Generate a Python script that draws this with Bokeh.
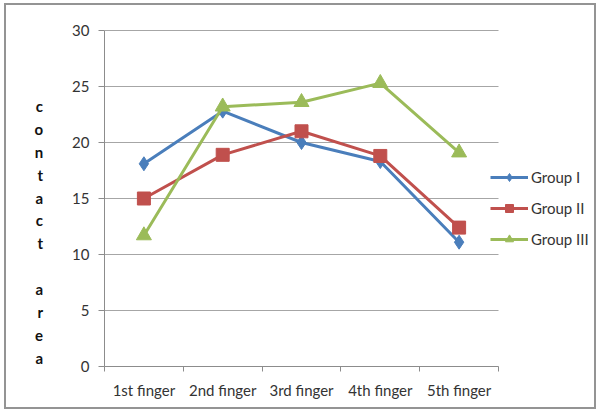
from bokeh.plotting import figure
from bokeh.models import FixedTicker, Legend, LegendItem, Range1d
from bokeh.embed import file_html
from bokeh.resources import INLINE

categories = ["1st finger", "2nd finger", "3rd finger", "4th finger", "5th finger"]
group1 = [18.1, 22.8, 20.0, 18.3, 11.1]
group2 = [15.0, 18.9, 21.0, 18.8, 12.4]
group3 = [11.7, 23.2, 23.6, 25.3, 19.1]
series_names = ["Group I", "Group II", "Group III"]
y_ticks = [0, 5, 10, 15, 20, 25, 30]
y_label = "contact area"

FONT = "Lato"
TXT = "#333333"
AX = "#8c8c8c"
n = len(categories)
xs = [i + 0.5 for i in range(n)]

# frame: plotting area 394 px wide for the categories, extended to host the legend
cat_px, frame_px = 394, 488
x_end = n * frame_px / cat_px
y_top = y_ticks[-1] * (338 / 336)

p = figure(width=592, height=406, output_backend="svg", toolbar_location=None,
           x_range=Range1d(0, x_end), y_range=Range1d(0, y_top),
           min_border_left=98, min_border_right=6, min_border_top=23, min_border_bottom=45)
p.margin = (3, 0, 0, 4)
p.styles = {"border": "2px solid #949494"}
p.outline_line_color = None
p.xgrid.grid_line_color = None
p.ygrid.grid_line_color = None

# horizontal gridlines only across the category area
p.segment(x0=[0] * len(y_ticks), x1=[n] * len(y_ticks), y0=y_ticks, y1=y_ticks,
          line_color="#a6a6a6", line_width=1)

p.yaxis.ticker = FixedTicker(ticks=y_ticks)
p.yaxis.bounds = (y_ticks[0], y_ticks[-1])
p.yaxis.axis_line_color = AX
p.yaxis.major_tick_line_color = AX
p.yaxis.major_tick_out = 6
p.yaxis.major_tick_in = 0
p.yaxis.minor_tick_line_color = None
p.yaxis.major_label_standoff = 9
p.yaxis.major_label_text_font = FONT
p.yaxis.major_label_text_font_size = "15px"
p.yaxis.major_label_text_color = TXT

letters = "\n".join(ch if ch != " " else "" for ch in y_label)
p.yaxis.axis_label = "\n\n\n" + letters
p.yaxis.axis_label_orientation = "horizontal"
p.yaxis.axis_label_text_font = FONT
p.yaxis.axis_label_text_font_size = "15px"
p.yaxis.axis_label_text_font_style = "bold"
p.yaxis.axis_label_text_color = "#111111"
p.yaxis.axis_label_text_line_height = 1.27
p.yaxis.axis_label_standoff = 26

p.xaxis.ticker = FixedTicker(ticks=xs, minor_ticks=list(range(n + 1)))
p.xaxis.bounds = (0, n)
p.xaxis.major_label_overrides = {x: c for x, c in zip(xs, categories)}
p.xaxis.axis_line_color = AX
p.xaxis.major_tick_line_color = None
p.xaxis.major_tick_out = 0
p.xaxis.major_tick_in = 0
p.xaxis.minor_tick_line_color = AX
p.xaxis.minor_tick_out = 5
p.xaxis.minor_tick_in = 0
p.xaxis.major_label_standoff = 9
p.xaxis.major_label_text_font = FONT
p.xaxis.major_label_text_font_size = "15px"
p.xaxis.major_label_text_color = TXT

colors = ["#4A7EBB", "#C0504D", "#9BBB59"]
markers = ["diamond", "square", "triangle"]
sizes = [14, 13, 15]
items = []
for name, vals, c, m, s in zip(series_names, [group1, group2, group3], colors, markers, sizes):
    ln = p.line(xs, vals, line_color=c, line_width=3)
    sc = p.scatter(xs, vals, marker=m, size=s, fill_color=c, line_color=c)
    items.append(LegendItem(label=name, renderers=[ln, sc]))

legend = Legend(items=items, location=(386, 117), border_line_color=None,
                background_fill_alpha=0, label_text_font=FONT, label_text_font_size="15px",
                label_text_color=TXT, glyph_width=38, spacing=11, padding=0,
                margin=0, label_standoff=3)
p.add_layout(legend, "center")

open("out.html", "w").write(file_html(p, INLINE))
